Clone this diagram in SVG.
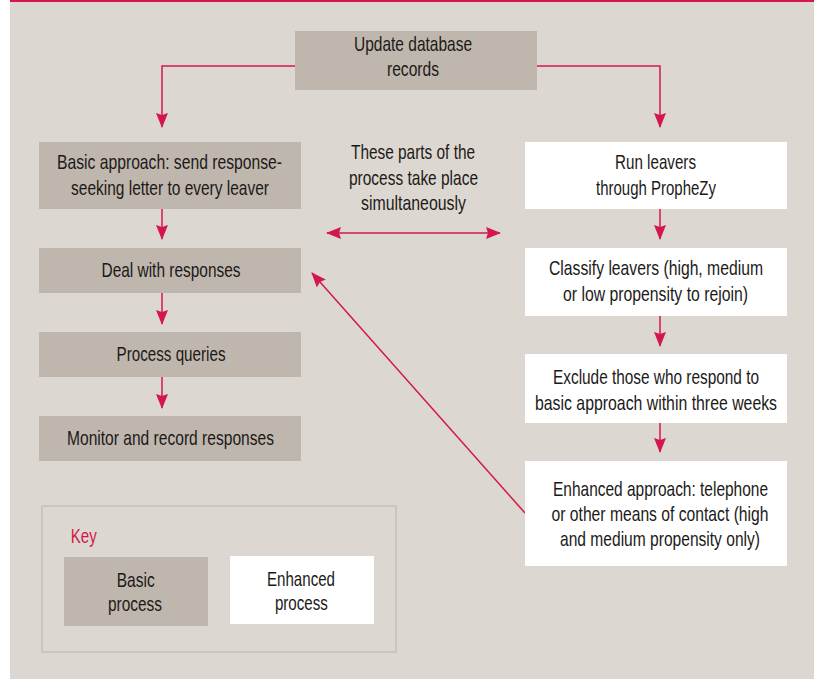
<svg xmlns="http://www.w3.org/2000/svg" width="814" height="679" viewBox="0 0 814 679">
<style>
text{font-family:"Liberation Sans",Arial,sans-serif;font-size:20px;fill:#1c1a18;text-anchor:middle}
.basic{fill:#bfb6ad}
.enh{fill:#ffffff}
.conn{fill:none;stroke:#d4174a;stroke-width:1.5}
.key{fill:#d4174a;text-anchor:start}
</style>
<defs>
<marker id="ah" viewBox="0 0 15 12" refX="14" refY="6" markerWidth="15" markerHeight="12" markerUnits="userSpaceOnUse" orient="auto-start-reverse">
<path d="M0,0 L15,6 L0,12 L2,6 z" fill="#d4174a"/>
</marker>
</defs>
<rect x="10" y="0" width="804" height="679" fill="#dcd7d1"/>
<rect x="10" y="0" width="804" height="2" fill="#d4174a"/>

<g id="connectors">
<polyline class="conn" points="295,66 162,66 162,127" marker-end="url(#ah)"/>
<polyline class="conn" points="537,66 660,66 660,127" marker-end="url(#ah)"/>
<line class="conn" x1="162" y1="209" x2="162" y2="239" marker-end="url(#ah)"/>
<line class="conn" x1="162" y1="293" x2="162" y2="324" marker-end="url(#ah)"/>
<line class="conn" x1="162" y1="377" x2="162" y2="408" marker-end="url(#ah)"/>
<line class="conn" x1="660" y1="209" x2="660" y2="239" marker-end="url(#ah)"/>
<line class="conn" x1="660" y1="316" x2="660" y2="346" marker-end="url(#ah)"/>
<line class="conn" x1="660" y1="423" x2="660" y2="452" marker-end="url(#ah)"/>
<line class="conn" x1="327" y1="233" x2="500" y2="233" marker-start="url(#ah)" marker-end="url(#ah)"/>
<line class="conn" x1="525" y1="513" x2="312" y2="273" marker-end="url(#ah)"/>
</g>

<g id="update">
<rect class="basic" x="295" y="31" width="242" height="59"/>
<text transform="translate(413,51) scale(0.78,1)" textLength="151.3" lengthAdjust="spacingAndGlyphs">Update database</text>
<text transform="translate(413,76) scale(0.78,1)" textLength="66.7" lengthAdjust="spacingAndGlyphs">records</text>
</g>

<g id="basic-approach">
<rect class="basic" x="39" y="142" width="262" height="67"/>
<text transform="translate(169.5,169) scale(0.78,1)" textLength="288.5" lengthAdjust="spacingAndGlyphs">Basic approach: send response-</text>
<text transform="translate(170,195) scale(0.78,1)" textLength="253.8" lengthAdjust="spacingAndGlyphs">seeking letter to every leaver</text>
</g>

<g id="deal">
<rect class="basic" x="39" y="248" width="262" height="45"/>
<text transform="translate(171,277) scale(0.78,1)" textLength="178.2" lengthAdjust="spacingAndGlyphs">Deal with responses</text>
</g>

<g id="process-queries">
<rect class="basic" x="39" y="332" width="262" height="45"/>
<text transform="translate(171,361) scale(0.78,1)" textLength="139.7" lengthAdjust="spacingAndGlyphs">Process queries</text>
</g>

<g id="monitor">
<rect class="basic" x="39" y="416" width="262" height="45"/>
<text transform="translate(170.5,445) scale(0.78,1)" textLength="265.4" lengthAdjust="spacingAndGlyphs">Monitor and record responses</text>
</g>

<g id="note">
<text transform="translate(413,159) scale(0.78,1)" textLength="159" lengthAdjust="spacingAndGlyphs">These parts of the</text>
<text transform="translate(413.5,185) scale(0.78,1)" textLength="165.4" lengthAdjust="spacingAndGlyphs">process take place</text>
<text transform="translate(413.5,210) scale(0.78,1)" textLength="134.6" lengthAdjust="spacingAndGlyphs">simultaneously</text>
</g>

<g id="run-leavers">
<rect class="enh" x="525" y="142" width="262" height="67"/>
<text transform="translate(655.5,169) scale(0.78,1)" textLength="103.8" lengthAdjust="spacingAndGlyphs">Run leavers</text>
<text transform="translate(656,195) scale(0.78,1)" textLength="153.8" lengthAdjust="spacingAndGlyphs">through PropheZy</text>
</g>

<g id="classify">
<rect class="enh" x="525" y="248" width="262" height="68"/>
<text transform="translate(656,275) scale(0.78,1)" textLength="274.4" lengthAdjust="spacingAndGlyphs">Classify leavers (high, medium</text>
<text transform="translate(655.5,301) scale(0.78,1)" textLength="237.2" lengthAdjust="spacingAndGlyphs">or low propensity to rejoin)</text>
</g>

<g id="exclude">
<rect class="enh" x="525" y="354" width="262" height="69"/>
<text transform="translate(656,384) scale(0.78,1)" textLength="264.1" lengthAdjust="spacingAndGlyphs">Exclude those who respond to</text>
<text transform="translate(656,410) scale(0.78,1)" textLength="310.3" lengthAdjust="spacingAndGlyphs">basic approach within three weeks</text>
</g>

<g id="enhanced">
<rect class="enh" x="525" y="461" width="262" height="105"/>
<text transform="translate(660.5,496) scale(0.78,1)" textLength="275.6" lengthAdjust="spacingAndGlyphs">Enhanced approach: telephone</text>
<text transform="translate(660,521) scale(0.78,1)" textLength="278.2" lengthAdjust="spacingAndGlyphs">or other means of contact (high</text>
<text transform="translate(660,546) scale(0.78,1)" textLength="256.4" lengthAdjust="spacingAndGlyphs">and medium propensity only)</text>
</g>

<g id="key">
<rect x="42" y="506" width="354" height="146" fill="none" stroke="#c2bab2" stroke-width="1.2"/>
<text class="key" transform="translate(70.7,543) scale(0.78,1)" textLength="33.3" lengthAdjust="spacingAndGlyphs">Key</text>
<rect class="basic" x="64" y="557" width="144" height="69"/>
<text transform="translate(135.7,587) scale(0.78,1)" textLength="48.7" lengthAdjust="spacingAndGlyphs">Basic</text>
<text transform="translate(135,611) scale(0.78,1)" textLength="69.2" lengthAdjust="spacingAndGlyphs">process</text>
<rect class="enh" x="230" y="556" width="144" height="68"/>
<text transform="translate(301,586) scale(0.78,1)" textLength="87.2" lengthAdjust="spacingAndGlyphs">Enhanced</text>
<text transform="translate(301.4,610) scale(0.78,1)" textLength="67.9" lengthAdjust="spacingAndGlyphs">process</text>
</g>
</svg>
